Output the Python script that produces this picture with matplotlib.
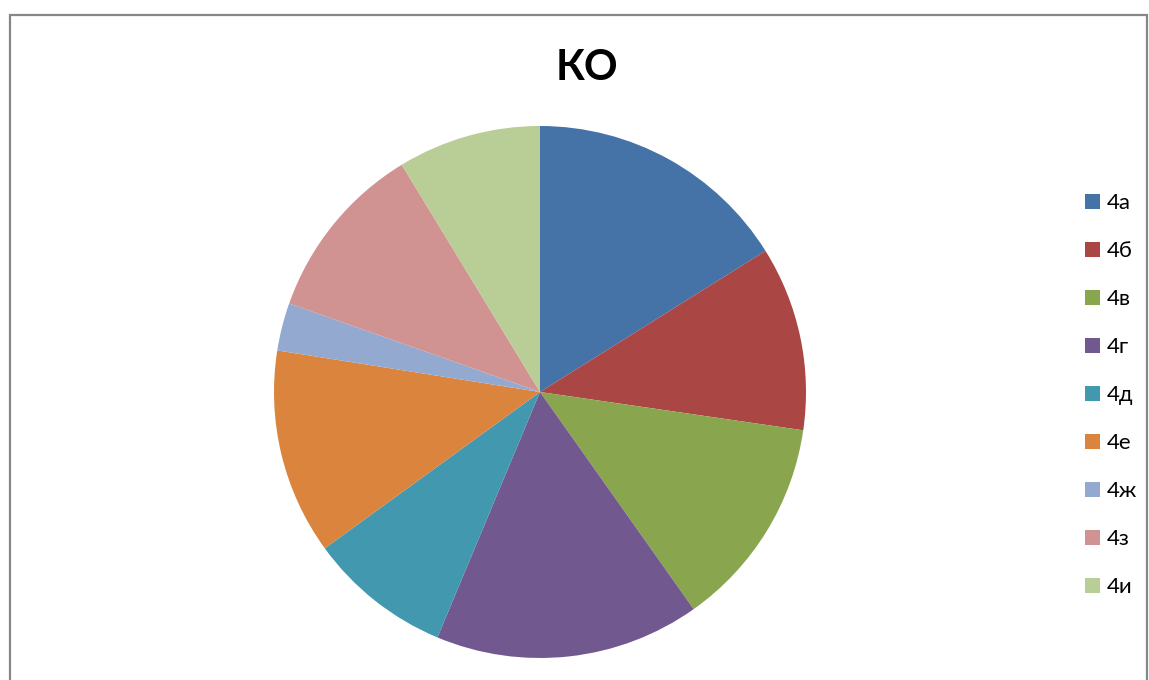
import matplotlib
matplotlib.use("Agg")
import matplotlib.pyplot as plt
from matplotlib.patches import Rectangle

# доли классов (оценка по рисунку)
labels = ["4а", "4б", "4в", "4г", "4д", "4е", "4ж", "4з", "4и"]
values = [16.1, 11.2, 12.9, 16.1, 8.7, 12.5, 2.9, 10.9, 8.7]
colors = ["#4572A7", "#AA4643", "#89A54E", "#71588F", "#4198AF",
          "#DB843D", "#93A9CF", "#D19392", "#B9CD96"]

plt.rcParams["font.family"] = ["Lato", "DejaVu Sans"]

W, H = 1149, 680
fig = plt.figure(figsize=(W / 100, H / 100), dpi=100)

# рамка области диаграммы
fig.patches.append(Rectangle((10 / W, -0.1), (1147 - 10) / W, 1.1 - 15 / H,
                             transform=fig.transFigure, fill=False,
                             edgecolor="#878787", linewidth=1.6))

cx, cy, r = 540, 392, 266
ax = fig.add_axes([(cx - r) / W, 1 - (cy + r) / H, 2 * r / W, 2 * r / H])
wedges, _ = ax.pie(values, colors=colors, startangle=90, counterclock=False,
                   radius=1, wedgeprops=dict(linewidth=0))
ax.set_xlim(-1, 1)
ax.set_ylim(-1, 1)
ax.set_aspect("equal")
ax.axis("off")

fig.text(587 / W, 1 - 68 / H, "КО", ha="center", va="center",
         fontsize=30, fontweight="bold")

fig.legend(wedges, labels, loc="upper left", bbox_to_anchor=(1074 / W, 1 - 182 / H),
           frameon=False, fontsize=16, handlelength=0.68, handleheight=0.68,
           handletextpad=0.3, labelspacing=1.26, borderpad=0)

fig.savefig("out.png", dpi=100)
